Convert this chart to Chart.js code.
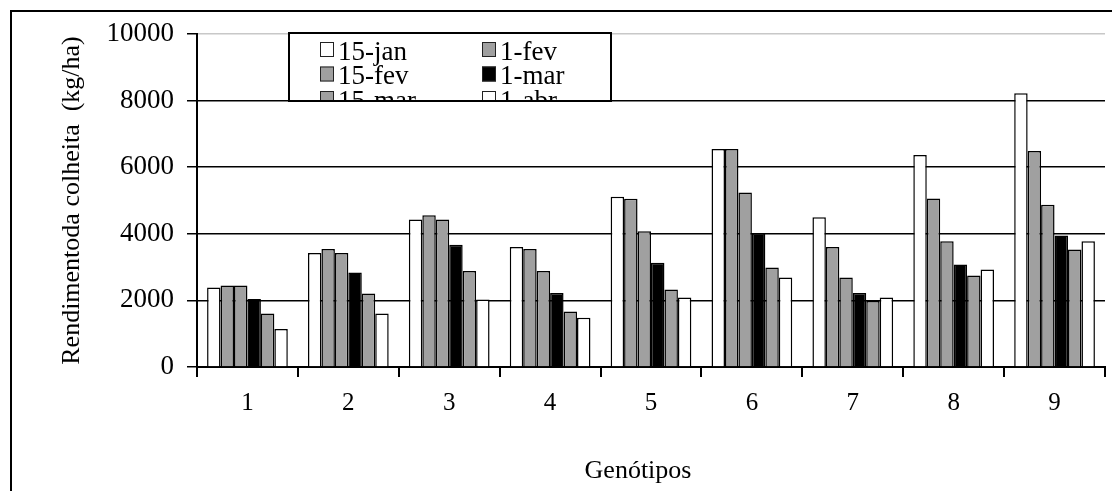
<!DOCTYPE html>
<html lang="pt">
<head>
<meta charset="UTF-8">
<title>Rendimento por genótipo</title>
<script src="https://cdn.jsdelivr.net/npm/chart.js"></script>
<style>
  html, body { margin: 0; padding: 0; background: #fff; overflow: hidden; }
  canvas { display: block; }
</style>
</head>
<body>
<canvas id="grafico" width="1112" height="491"></canvas>
<script>
// dados (kg/ha)
const genotipos = ['1', '2', '3', '4', '5', '6', '7', '8', '9'];
const datas = ['15-jan', '1-fev', '15-fev', '1-mar', '15-mar', '1-abr'];
const jan15 = [2390, 3420, 4430, 3600, 5110, 6550, 4500, 6370, 8220];
const fev1  = [2450, 3540, 4560, 3540, 5050, 6550, 3600, 5060, 6490];
const fev15 = [2450, 3420, 4430, 2880, 4080, 5240, 2690, 3780, 4870];
const mar1  = [2040, 2840, 3670, 2220, 3130, 4020, 2220, 3080, 3950];
const mar15 = [1610, 2210, 2880, 1670, 2330, 2990, 1980, 2750, 3530];
const abr1  = [1140, 1610, 2030, 1480, 2090, 2690, 2090, 2930, 3780];
const yMin = 0, yMax = 10000, yPasso = 2000;

const series = [jan15, fev1, fev15, mar1, mar15, abr1];
const cores = ['#ffffff', '#a0a0a0', '#a0a0a0', '#000000', '#a0a0a0', '#ffffff'];
const fonte = "'Liberation Serif', 'Times New Roman', serif";

const moldura = {
  id: 'moldura',
  beforeDraw(chart) {
    const ctx = chart.ctx;
    ctx.save();
    ctx.fillStyle = '#fff';
    ctx.fillRect(0, 0, chart.width, chart.height);
    ctx.strokeStyle = '#000';
    ctx.lineWidth = 2;
    ctx.beginPath();
    ctx.moveTo(11, chart.height + 5);
    ctx.lineTo(11, 11);
    ctx.lineTo(chart.width + 5, 11);
    ctx.stroke();
    ctx.restore();
  },
  afterDraw(chart) {
    // legenda em caixa, cortada embaixo como no original
    const ctx = chart.ctx;
    const bx = 289, by = 33, bw = 322, bh = 68;
    ctx.save();
    ctx.fillStyle = '#fff';
    ctx.fillRect(bx, by, bw, bh);
    ctx.beginPath();
    ctx.rect(bx, by, bw, bh);
    ctx.clip();
    ctx.font = '27px ' + fonte;
    ctx.textBaseline = 'alphabetic';
    chart.data.datasets.forEach((ds, i) => {
      const col = i % 2, row = Math.floor(i / 2);
      const sx = col === 0 ? 320 : 482;
      const base = 59.5 + row * 24.5;
      ctx.fillStyle = ds.backgroundColor;
      ctx.fillRect(sx, base - 17.5, 14, 15);
      ctx.strokeStyle = '#222';
      ctx.lineWidth = 1;
      ctx.strokeRect(sx + 0.5, base - 17, 13, 14);
      ctx.fillStyle = '#000';
      ctx.fillText(ds.label, sx + 18, base);
    });
    ctx.restore();
    ctx.save();
    ctx.strokeStyle = '#000';
    ctx.lineWidth = 2;
    ctx.strokeRect(bx, by, bw, bh);
    ctx.restore();
  }
};

new Chart(document.getElementById('grafico'), {
  type: 'bar',
  data: {
    labels: genotipos,
    datasets: datas.map((d, i) => ({
      label: d,
      data: series[i],
      backgroundColor: cores[i],
      borderColor: '#000',
      borderWidth: 1.5,
      categoryPercentage: 0.8,
      barPercentage: 1
    }))
  },
  options: {
    responsive: false,
    animation: false,
    devicePixelRatio: 1,
    layout: { padding: { left: 57, top: 34, right: 7, bottom: 0 } },
    plugins: { legend: { display: false }, tooltip: { enabled: false } },
    scales: {
      x: {
        afterFit: s => { s.height = 124; },
        grid: { offset: true, drawOnChartArea: false, drawTicks: true, tickLength: 10, tickColor: '#000', lineWidth: 2 },
        border: { display: true, color: '#000', width: 2 },
        ticks: { color: '#000', padding: 11, font: { family: fonte, size: 25 } },
        // espaços no fim deslocam o título um pouco à esquerda, como no original
        title: { display: true, text: 'Genótipos    ', color: '#000', padding: { top: 0, bottom: 4 }, font: { family: fonte, size: 26 } }
      },
      y: {
        min: yMin,
        max: yMax,
        afterFit: s => { s.width = 140; },
        grid: {
          color: c => (c.tick && c.tick.value === yMax) ? '#c8c8c8' : '#000',
          tickColor: '#000',
          lineWidth: 1.5,
          tickLength: 10
        },
        border: { display: true, color: '#000', width: 2 },
        ticks: { stepSize: yPasso, color: '#000', padding: 13, font: { family: fonte, size: 27 }, callback: v => String(v) },
        title: { display: true, text: 'Rendimentoda colheita  (kg/ha)', color: '#000', padding: { top: 0, bottom: 0 }, font: { family: fonte, size: 26 } }
      }
    }
  },
  plugins: [moldura]
});
</script>
</body>
</html>
